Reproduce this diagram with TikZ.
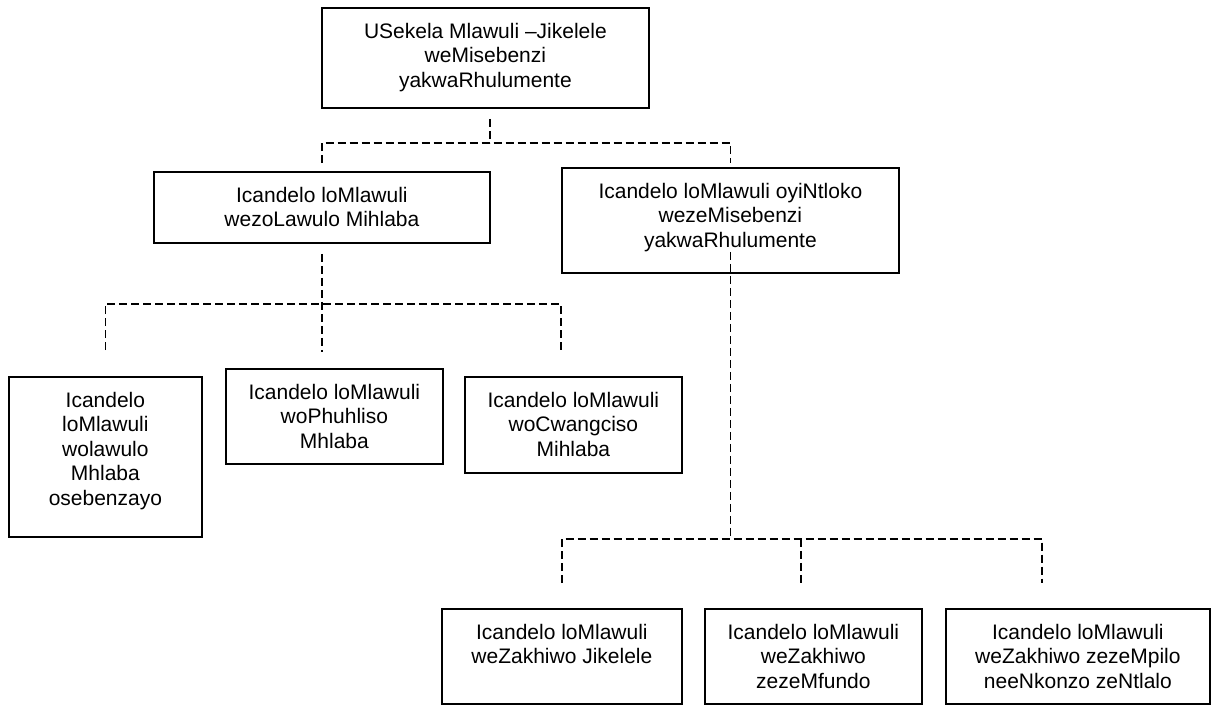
\documentclass[tikz,border=0pt]{standalone}
\usepackage{fontspec}
\setmainfont{Liberation Sans}
\tikzset{
  unit/.style={draw, line width=1.8pt, inner sep=0pt},
  unittext/.style={font=\fontsize{21}{24.5}\selectfont, align=center, inner sep=0pt},
  link/.style={line width=1.8pt, dash pattern=on 8pt off 4pt}
}
\begin{document}
\begin{tikzpicture}[x=1pt,y=-1pt]
 		\useasboundingbox (0,0) rectangle (1212,704);
 		\foreach \nm/\xa/\ya/\xb/\yb/\txt in {top/321/7/648/107/{USekela Mlawuli –Jikelele\\weMisebenzi\\yakwaRhulumente},
 				lmid/153/171/489/242/{Icandelo loMlawuli\\wezoLawulo Mihlaba},
 				rmid/561/167/898/272/{Icandelo loMlawuli oyiNtloko\\wezeMisebenzi\\yakwaRhulumente},
 				boxA/8/376/201/536/{Icandelo\\loMlawuli\\wolawulo\\Mhlaba\\osebenzayo},
 				boxB/225/368/442/463/{Icandelo loMlawuli\\woPhuhliso\\Mhlaba},
 				boxC/464/376/681/472/{Icandelo loMlawuli\\woCwangciso\\Mihlaba},
 				bot1/441/608/681/703/{Icandelo loMlawuli\\weZakhiwo Jikelele},
 				bot2/704/608/921/703/{Icandelo loMlawuli\\weZakhiwo\\zezeMfundo},
 				bot3/945/608/1209/703/{Icandelo loMlawuli\\weZakhiwo zezeMpilo\\neeNkonzo zeNtlalo}}
 				{\node[unit, anchor=north west, minimum width=\xb pt-\xa pt, minimum height=\yb pt-\ya pt] (\nm) at (\xa,\ya) {};
 				\node[unittext, anchor=north] (\nm-t) at ([yshift=-16pt]\nm.north) {\txt};}
 		% top level
 		\draw[link] ([xshift=4.5pt,yshift=-10pt]top.south) -- ++(0,24) coordinate (hub1);
 		\draw[link] ([yshift=8pt]lmid.north) |- (hub1) -| ([yshift=4pt]rmid.north);
 		% left branch
 		\coordinate (endC) at (561,350);
 		\draw[link] ([yshift=-10pt]lmid.south) -- ++(0,98) coordinate (hub2);
 		\draw[link] ([yshift=26pt]boxA.north) |- ([yshift=-60pt]lmid.south) -| (endC);
 		% right branch
 		\coordinate (end2) at (801,583);
 		\coordinate (end3) at (1042,583);
 		\draw[link] ([yshift=22pt]rmid.south) -- ++(0,287) coordinate (hub3);
 		\draw[link] ([yshift=25pt]bot1.north) |- (hub3) -| (end3);
 		\draw[link] (hub3 -| end2) -- (end2);
\end{tikzpicture}
\end{document}
